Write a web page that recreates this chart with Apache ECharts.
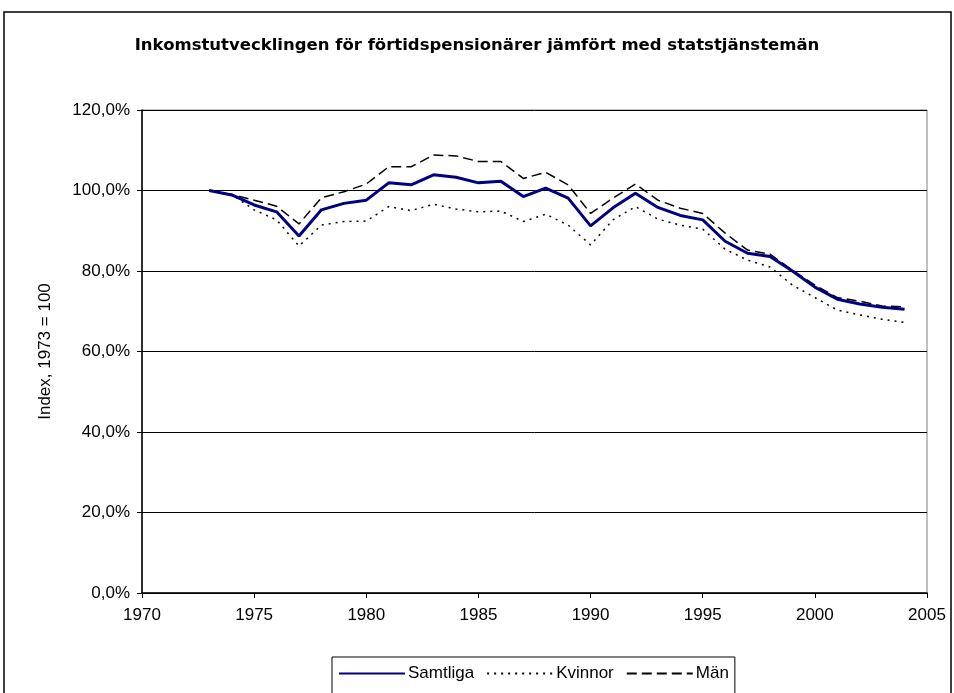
<!DOCTYPE html>
<html lang="sv">
<head>
<meta charset="utf-8">
<title>Inkomstutveckling</title>
<script src="https://cdn.jsdelivr.net/npm/echarts@6/dist/echarts.min.js"></script>
<style>
  html, body { margin: 0; padding: 0; background: #fff; }
  #chart { width: 954px; height: 693px; }
</style>
</head>
<body>
<div id="chart"></div>
<script>
// år 1973-2004, index 1973 = 100
var years = [1973,1974,1975,1976,1977,1978,1979,1980,1981,1982,1983,1984,1985,1986,1987,1988,
             1989,1990,1991,1992,1993,1994,1995,1996,1997,1998,1999,2000,2001,2002,2003,2004];
var samtliga = [100.0,98.9,96.4,94.7,88.7,95.2,96.8,97.6,101.9,101.4,103.9,103.3,101.9,102.3,98.5,100.6,
                98.1,91.2,95.7,99.3,95.8,93.8,92.7,87.4,84.4,83.6,80.0,76.0,73.0,71.8,71.0,70.5];
var kvinnor  = [100.0,99.0,95.2,92.7,86.2,91.4,92.3,92.4,96.0,95.0,96.6,95.4,94.7,94.9,92.3,94.1,
                91.4,86.5,92.7,96.0,92.9,91.4,90.4,85.4,82.7,81.0,76.5,73.4,70.3,69.1,68.0,67.2];
var man      = [100.0,99.0,97.6,96.1,91.7,98.2,99.7,101.6,105.9,105.9,108.8,108.6,107.2,107.2,103.0,104.5,
                101.4,94.3,98.1,101.6,97.6,95.6,94.3,89.4,85.2,84.2,80.2,76.5,73.4,72.5,71.3,71.1];
var yTicks = [0, 20, 40, 60, 80, 100, 120];

function pairs(vals) {
    return years.map(function (y, i) { return [y, vals[i]]; });
}

var font = 'Liberation Sans, Arial, sans-serif';
var chart = echarts.init(document.getElementById('chart'));
chart.setOption({
    animation: false,
    textStyle: { fontFamily: font },
    title: {
        text: 'Inkomstutvecklingen för förtidspensionärer jämfört med statstjänstemän',
        left: 'center',
        top: 32,
        textStyle: { fontSize: 16.5, fontWeight: 'bold', color: '#000', fontFamily: 'DejaVu Sans' }
    },
    graphic: [{
        type: 'rect',
        shape: { x: 4, y: 12, width: 947, height: 700 },
        style: { fill: 'none', stroke: '#000', lineWidth: 1.5 },
        silent: true
    }],
    legend: {
        left: 332,
        top: 657,
        padding: [8, 6, 20, 6],
        itemGap: 12,
        itemWidth: 66,
        itemHeight: 14,
        borderColor: '#000',
        borderWidth: 1,
        itemStyle: { opacity: 0 },
        textStyle: { fontSize: 17, color: '#000', padding: [0, 0, 0, -2] },
        data: ['Samtliga', 'Kvinnor', 'Män']
    },
    grid: {
        left: 142, right: 27, top: 110, bottom: 100,
        show: true, borderColor: '#808080', borderWidth: 1
    },
    xAxis: {
        type: 'value',
        min: 1970, max: 2005, interval: 5,
        axisLine: { lineStyle: { color: '#000', width: 1.5 } },
        axisTick: { show: true, length: 5, lineStyle: { color: '#000' } },
        axisLabel: { fontSize: 17, color: '#000', margin: 14, formatter: function (v) { return String(v); } },
        splitLine: { show: false }
    },
    yAxis: {
        type: 'value',
        min: 0, max: 120, interval: 20,
        name: 'Index, 1973 = 100',
        nameLocation: 'middle',
        nameGap: 88,
        nameTextStyle: { fontSize: 17, color: '#000' },
        axisLine: { show: true, lineStyle: { color: '#000', width: 1.5 } },
        axisTick: { show: true, length: 5, lineStyle: { color: '#000' } },
        axisLabel: {
            fontSize: 17, color: '#000', margin: 12,
            formatter: function (v) { return yTicks.indexOf(v) >= 0 ? v.toFixed(1).replace('.', ',') + '%' : ''; }
        },
        splitLine: { lineStyle: { color: '#000', width: 1 } }
    },
    series: [
        {
            name: 'Samtliga', type: 'line', symbol: 'none',
            data: pairs(samtliga),
            lineStyle: { color: '#000080', width: 3 },
            itemStyle: { color: '#000080' },
            z: 5
        },
        {
            name: 'Kvinnor', type: 'line', symbol: 'none',
            data: pairs(kvinnor),
            lineStyle: { color: '#000', width: 1.5, type: [2, 5] },
            itemStyle: { color: '#000' }
        },
        {
            name: 'Män', type: 'line', symbol: 'none',
            data: pairs(man),
            lineStyle: { color: '#000', width: 1.5, type: [10, 5] },
            itemStyle: { color: '#000' }
        }
    ]
});
</script>
</body>
</html>
